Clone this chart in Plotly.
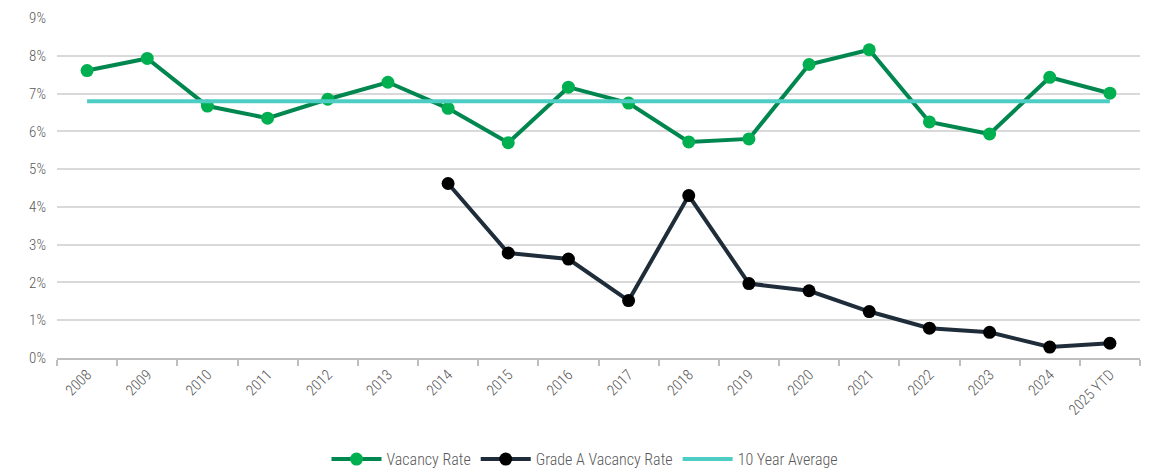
import plotly.graph_objects as go

years = ["2008", "2009", "2010", "2011", "2012", "2013", "2014", "2015", "2016",
         "2017", "2018", "2019", "2020", "2021", "2022", "2023", "2024", "2025 YTD"]
vacancy = [7.61, 7.93, 6.67, 6.35, 6.85, 7.30, 6.61, 5.70, 7.17,
           6.75, 5.72, 5.80, 7.77, 8.16, 6.25, 5.93, 7.43, 7.01]
grade_a = [None, None, None, None, None, None, 4.62, 2.78, 2.62,
           1.52, 4.30, 1.97, 1.78, 1.23, 0.79, 0.68, 0.29, 0.39]
ten_year_avg = [6.80] * len(years)
y_ticks = [0, 1, 2, 3, 4, 5, 6, 7, 8, 9]

FONT = "Roboto Condensed, Liberation Sans Narrow, Roboto, sans-serif"

fig = go.Figure()
fig.add_trace(go.Scatter(
    x=years, y=vacancy, name="Vacancy Rate", mode="lines+markers",
    line=dict(color="#00874F", width=4),
    marker=dict(color="#00B050", size=13),
))
fig.add_trace(go.Scatter(
    x=years, y=grade_a, name="Grade A Vacancy Rate", mode="lines+markers",
    line=dict(color="#1F2D3A", width=4),
    marker=dict(color="#000000", size=13),
))
fig.add_trace(go.Scatter(
    x=years, y=ten_year_avg, name="10 Year Average", mode="lines",
    line=dict(color="#4ECDC4", width=4),
))

fig.update_layout(
    width=1154, height=472,
    margin=dict(l=49, r=22, t=10, b=122, autoexpand=False),
    paper_bgcolor="white", plot_bgcolor="white",
    font=dict(family=FONT, color="#595959", size=14, weight=300),
    showlegend=True,
    legend=dict(orientation="h", x=0.5, xanchor="center", xref="container",
                y=0.008, yanchor="bottom", yref="container",
                font=dict(size=16, color="#595959", weight=300),
                itemwidth=50, tracegroupgap=0),
    xaxis=dict(
        type="category", range=[-0.5, len(years) - 0.5],
        tickangle=-45, tickson="boundaries", automargin=False,
        ticks="outside", ticklen=6, tickcolor="#BFBFBF", tickwidth=2,
        showline=True, linecolor="#BFBFBF", linewidth=2,
        showgrid=False, tickfont=dict(size=15, color="#595959", weight=300),
    ),
    yaxis=dict(
        range=[0, 9.001], tickvals=y_ticks, ticktext=[f"{v}%" for v in y_ticks],
        showgrid=True, gridcolor="#D9D9D9", gridwidth=1.5, automargin=False,
        zeroline=False, showline=False, ticklabeloverflow="allow",
        tickfont=dict(size=15, color="#595959", weight=300), ticklabelstandoff=10,
    ),
)

fig.write_html("out.html")
